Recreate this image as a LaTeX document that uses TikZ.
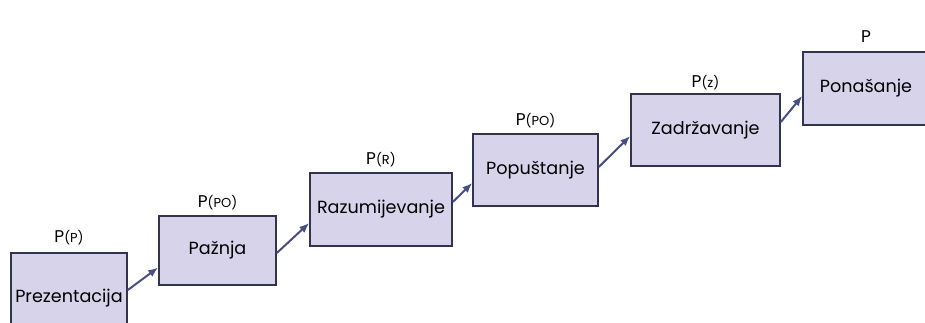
\documentclass[tikz,border=0pt]{standalone}
\usepackage{fontspec}
\setmainfont{Poppins}
\usetikzlibrary{positioning,arrows.meta}
\definecolor{boxfill}{RGB}{214,211,234}
\definecolor{boxline}{RGB}{50,52,78}
\definecolor{arrowcol}{RGB}{72,80,130}
\tikzset{
  stage/.style={draw=boxline,line width=1.6pt,fill=boxfill,inner sep=0pt,
    text=black,font=\fontsize{17.6}{20}\selectfont},
  plabel/.style={inner sep=0pt,text=black,font=\fontsize{17}{19}\selectfont},
  stair/.style={draw=arrowcol,line width=2pt,-{Latex[length=10pt,width=8pt]}}
}
\newcommand{\sm}[1]{{\fontsize{13}{15}\selectfont #1}}
\begin{document}
\begin{tikzpicture}[x=1pt,y=1pt]
	\clip (0,0) rectangle (925,322);
	\fill[white] (0,0) rectangle (925,322);
	%stages
	\node[stage,minimum width=116pt,minimum height=90pt] (prez) at (69,24) {Prezentacija};
	\node[stage,minimum width=117pt,minimum height=69pt] (pazn) at (217.5,71.5) {Pažnja};
	\node[stage,minimum width=142pt,minimum height=73pt] (razu) at (381,112.5) {Razumijevanje};
	\node[stage,minimum width=125pt,minimum height=72pt] (popu) at (535.5,152) {Popuštanje};
	\node[stage,minimum width=149pt,minimum height=72pt] (zadr) at (705.5,192) {Zadržavanje};
	\node[stage,minimum width=126pt,minimum height=73pt] (pona) at (866,233.5) {Ponašanje};
	%probabilities
	\node[plabel,above=7pt of prez] (lprez) {P\sm{(P)}};
	\node[plabel,above=5pt of pazn] (lpazn) {P\sm{(PO)}};
	\node[plabel,above=5pt of razu] (lrazu) {P\sm{(R)}};
	\node[plabel,above=5pt of popu] (lpopu) {P\sm{(PO)}};
	\node[plabel,above=3pt of zadr] (lzadr) {P\sm{(z)}};
	\node[plabel,above=8pt of pona] (lpona) {P};
	%steps
	\draw[stair] ([yshift=8pt]prez.east) -- ([yshift=-17pt]pazn.west);
	\draw[stair] ([yshift=-2.5pt]pazn.east) -- ([yshift=-13.5pt]razu.west);
	\draw[stair] ([yshift=7.5pt]razu.east) -- ([yshift=-13pt]popu.west);
	\draw[stair] ([yshift=3pt]popu.east) -- ([yshift=-6pt]zadr.west);
	\draw[stair] ([yshift=8pt]zadr.east) -- ([yshift=-7.5pt]pona.west);
\end{tikzpicture}
\end{document}
